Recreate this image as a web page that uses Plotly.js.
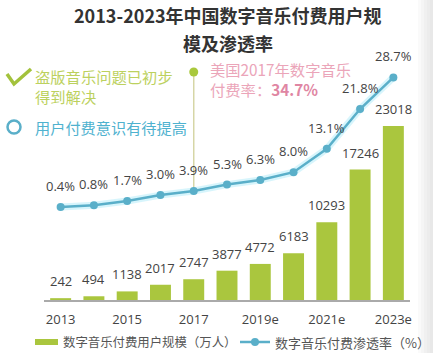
<!DOCTYPE html>
<html><head><meta charset="utf-8">
<script src="https://cdn.plot.ly/plotly-3.0.1.min.js"></script>
<style>html,body{margin:0;padding:0;background:#fff;}#chart{width:433px;height:353px;}</style>
</head><body><div id="chart"></div>
<script>
// ---- data ----
const years = ['2013','2014','2015','2016','2017','2018','2019e','2020e','2021e','2022e','2023e'];
const users = [242, 494, 1138, 2017, 2747, 3877, 4772, 6183, 10293, 17246, 23018];
const rate = [0.4, 0.8, 1.7, 3.0, 3.9, 5.3, 6.3, 8.0, 13.1, 21.8, 28.7];
const tickYears = ['2013','2015','2017','2019e','2021e','2023e'];
const barName = '数字音乐付费用户规模（万人）';
const lineName = '数字音乐付费渗透率（%）';
const titleLines = ['2013-2023年中国数字音乐付费用户规', '模及渗透率'];
const noteGreen = ['盗版音乐问题已初步', '得到解决'];
const noteBlue = '用户付费意识有待提高';
const usNote = ['美国2017年数字音乐', '付费率：', '34.7%'];

const FONT = 'Open Sans, Noto Sans CJK SC, sans-serif';
const CJK = 'Noto Sans CJK SC, sans-serif';
const GREEN = '#aac63e';
const TEAL = '#5aafc9';

const traces = [
  {type:'bar', x:years, y:users, marker:{color:GREEN}, hoverinfo:'none', showlegend:false},
  {type:'scatter', mode:'lines', x:years, y:rate, yaxis:'y2', line:{color:'rgba(175,235,250,0.5)', width:7}, hoverinfo:'none', showlegend:false},
  {type:'scatter', mode:'lines+markers', x:years, y:rate, yaxis:'y2', line:{color:TEAL, width:2.5}, marker:{color:TEAL, size:8}, hoverinfo:'none', showlegend:false}
];

const ann = [];
years.forEach((c,i)=>{
  ann.push({x:i, y:users[i], xref:'x', yref:'y', text:String(users[i]), showarrow:false, yanchor:'bottom', yshift:6, font:{family:FONT, size:13, color:'#444'}});
  ann.push({x:i, y:rate[i], xref:'x', yref:'y2', text:rate[i].toFixed(1)+'%', showarrow:false, yanchor:'bottom', yshift:10, font:{family:FONT, size:13, color:'#444'}});
});
// title
ann.push({xref:'paper', yref:'paper', x:0.503, y:1.1875, text:'<b>'+titleLines[0]+'</b>', showarrow:false, xanchor:'center', yanchor:'middle', font:{family:CJK, size:18, color:'#333'}});
ann.push({xref:'paper', yref:'paper', x:0.503, y:1.071, text:'<b>'+titleLines[1]+'</b>', showarrow:false, xanchor:'center', yanchor:'middle', font:{family:CJK, size:18, color:'#333'}});
// left notes
ann.push({xref:'paper', yref:'paper', x:-0.030, y:0.892, text:noteGreen.join('<br>'), align:'left', showarrow:false, xanchor:'left', yanchor:'middle', font:{family:CJK, size:15.3, color:'#bcd15e'}});
ann.push({xref:'paper', yref:'paper', x:-0.030, y:0.721, text:noteBlue, showarrow:false, xanchor:'left', yanchor:'middle', font:{family:CJK, size:15.2, color:'#4fb2cf'}});
// US note
ann.push({xref:'paper', yref:'paper', x:0.448, y:0.921, align:'left', text:usNote[0]+'<br>'+usNote[1]+'<b><span style="color:#df86a3">'+usNote[2]+'</span></b>', showarrow:false, xanchor:'left', yanchor:'middle', font:{family:CJK, size:15.3, color:'#eba5b9'}});
// legend texts
ann.push({xref:'paper', yref:'paper', x:0.0464, y:-0.175, text:barName, showarrow:false, xanchor:'left', yanchor:'middle', font:{family:CJK, size:12.4, color:'#555'}});
ann.push({xref:'paper', yref:'paper', x:0.6257, y:-0.175, text:lineName, showarrow:false, xanchor:'left', yanchor:'middle', font:{family:CJK, size:13, color:'#555'}});

const shapes = [
  // check mark
  {type:'path', xref:'paper', yref:'paper', path:'M-0.1011,0.9417 L-0.0820,0.9 L-0.0355,0.9625', line:{color:'#a3c23c', width:3.5}},
  // ring
  {type:'circle', xref:'paper', yref:'paper', x0:-0.0997, x1:-0.0642, y0:0.6938, y1:0.7479, line:{color:TEAL, width:2.5}, fillcolor:'rgba(0,0,0,0)'},
  // vertical callout line
  {type:'line', xref:'x', yref:'paper', x0:4, x1:4, y0:0.454, y1:0.95, line:{color:'#d6d6a6', width:1.5}, layer:'below'},
  {type:'circle', xref:'x', yref:'paper', xsizemode:'pixel', ysizemode:'pixel', xanchor:4, yanchor:0.95, x0:-4.5, x1:4.5, y0:-4.5, y1:4.5, fillcolor:'#a9c83c', line:{width:0}},
  // legend symbols
  {type:'rect', xref:'paper', yref:'paper', x0:-0.0246, x1:0.0383, y0:-0.1875, y1:-0.1625, fillcolor:GREEN, line:{width:0}},
  {type:'line', xref:'paper', yref:'paper', x0:0.5355, x1:0.6175, y0:-0.175, y1:-0.175, line:{color:TEAL, width:2.5}},
  {type:'circle', xref:'paper', yref:'paper', x0:0.5656, x1:0.5874, y0:-0.1917, y1:-0.1583, fillcolor:TEAL, line:{width:0}}
];
// right-edge fade
for (let k=0;k<5;k++){
  shapes.push({type:'rect', xref:'paper', yref:'paper', x0:1.0219+k*0.0082, x1:1.07, y0:-0.23, y1:1.26, fillcolor:'rgba(200,200,200,0.09)', line:{width:0}, layer:'above'});
}

const layout = {
  width:433, height:353,
  margin:{l:44, r:23, t:60, b:53},
  paper_bgcolor:'#fff', plot_bgcolor:'rgba(0,0,0,0)',
  showlegend:false,
  bargap:0.37,
  xaxis:{type:'category', range:[-0.5,10.5], showgrid:false, zeroline:false, showline:true, linecolor:'#aaa', linewidth:1.5,
         tickmode:'array', tickvals:tickYears, ticktext:tickYears, ticks:'', ticklabelstandoff:7, tickfont:{family:FONT, size:13, color:'#444'}, fixedrange:true},
  yaxis:{range:[0,31746], visible:false, fixedrange:true},
  yaxis2:{range:[-19.9,32.5], overlaying:'y', visible:false, fixedrange:true},
  annotations:ann,
  shapes:shapes
};
Plotly.newPlot('chart', traces, layout, {displayModeBar:false, staticPlot:true});
</script></body></html>
